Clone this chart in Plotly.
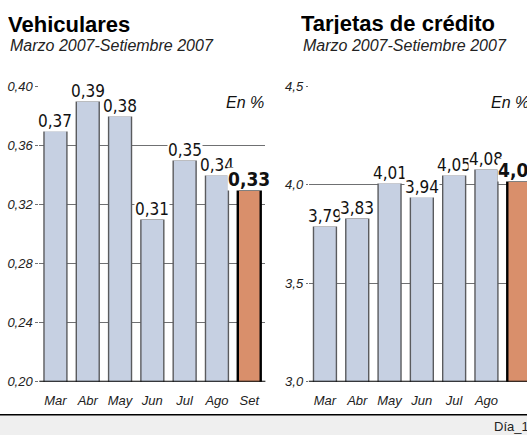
import plotly.graph_objects as go

months = ["Mar", "Abr", "May", "Jun", "Jul", "Ago", "Set"]
vehiculares = [0.37, 0.39, 0.38, 0.31, 0.35, 0.34, 0.33]
tarjetas = [3.79, 3.83, 4.01, 3.94, 4.05, 4.08, 4.02]
veh_ticks = [0.20, 0.24, 0.28, 0.32, 0.36, 0.40]
tar_ticks = [3.0, 3.5, 4.0, 4.5]

W, H = 527, 443
BLUE = "#c6d0e2"
ORANGE = "#d98f6b"
EDGE = "#5a5b5e"
GRID = "#6f7072"
NARROW = "Liberation Sans Narrow, DejaVu Sans Condensed, Arial Narrow, sans-serif"
SANS = "Liberation Sans, Arial, Helvetica, sans-serif"

def px(x):
    return x / W

def py(y):
    return (H - y) / H

pitch = 32.3
left0 = 39.3
right0 = 308.8
ydom = [py(388), py(82)]

def fmt(v, d):
    return f"{v:.{d}f}".replace(".", ",")

fig = go.Figure()
for vals, xa, ya in [(vehiculares, "x", "y"), (tarjetas, "x2", "y2")]:
    colors = [BLUE] * (len(vals) - 1) + [ORANGE]
    lcolors = [EDGE] * (len(vals) - 1) + ["#000000"]
    lwidths = [1.4] * (len(vals) - 1) + [2.4]
    fig.add_trace(go.Bar(
        x=list(range(len(months))), y=vals, xaxis=xa, yaxis=ya,
        marker=dict(color=colors, line=dict(color=lcolors, width=lwidths)),
        width=0.71, showlegend=False, hoverinfo="skip",
    ))

ann = []
for series, xr, yr in [(vehiculares, "x", "y"), (tarjetas, "x2", "y2")]:
    for i, v in enumerate(series):
        last = i == len(series) - 1
        ann.append(dict(x=i, y=v, xref=xr, yref=yr,
                        text=(f"<b>{fmt(v,2)}</b>" if last else fmt(v, 2)),
                        showarrow=False, yanchor="bottom", yshift=-1, bgcolor="white", borderpad=0,
                        font=dict(family=NARROW, size=19 if last else 17, color="#111")))

# titles
ann += [
    dict(x=px(7), y=py(18), xref="paper", yref="paper", text="<b>Vehiculares</b>", showarrow=False,
         xanchor="left", yanchor="middle", height=22, borderpad=0,
         font=dict(family=SANS, size=22, color="#000")),
    dict(x=px(9), y=py(39.5), xref="paper", yref="paper", text="<i>Marzo 2007-Setiembre 2007</i>", showarrow=False,
         xanchor="left", yanchor="middle", height=16, borderpad=0,
         font=dict(family=SANS, size=16, color="#222")),
    dict(x=px(300), y=py(17), xref="paper", yref="paper", text="<b>Tarjetas de crédito</b>", showarrow=False,
         xanchor="left", yanchor="middle", height=22, borderpad=0,
         font=dict(family=SANS, size=22, color="#000")),
    dict(x=px(302), y=py(39.5), xref="paper", yref="paper", text="<i>Marzo 2007-Setiembre 2007</i>", showarrow=False,
         xanchor="left", yanchor="middle", height=16, borderpad=0,
         font=dict(family=SANS, size=16, color="#222")),
    dict(x=px(266), y=py(99), xref="paper", yref="paper", text="<i>En %</i>", showarrow=False,
         xanchor="right", yanchor="middle", font=dict(family=SANS, size=16, color="#111")),
    dict(x=px(531), y=py(99), xref="paper", yref="paper", text="<i>En %</i>", showarrow=False,
         xanchor="right", yanchor="middle", font=dict(family=SANS, size=16, color="#111")),
    dict(x=px(531), y=py(434), xref="paper", yref="paper", text="Día_1", showarrow=False,
         xanchor="right", yanchor="middle", font=dict(family=SANS, size=13, color="#222")),
]

shapes = [
    dict(type="rect", xref="paper", yref="paper", x0=0, x1=1, y0=0, y1=py(422),
         fillcolor="#efefef", line=dict(width=0), layer="below"),
    dict(type="line", xref="paper", yref="paper", x0=0, x1=1, y0=py(422), y1=py(422),
         line=dict(color="#000", width=1.5)),
    dict(type="line", xref="x domain", yref="y", x0=0, x1=1, y0=0.20, y1=0.20,
         line=dict(color="#000", width=2.2), layer="above"),
    dict(type="line", xref="x2 domain", yref="y2", x0=0, x1=1, y0=3.0, y1=3.0,
         line=dict(color="#000", width=2.2), layer="above"),
]

tickfont = dict(family=SANS, size=13, color="#222")
fig.update_layout(
    width=W, height=H, margin=dict(l=0, r=0, t=0, b=0),
    paper_bgcolor="white", plot_bgcolor="white",
    annotations=ann, shapes=shapes, bargap=0.29,
    xaxis=dict(domain=[px(left0), px(left0 + 7 * pitch)], range=[-0.5, 6.5],
               tickvals=list(range(7)), ticktext=[f"<i>{m}</i>" for m in months],
               showgrid=False, zeroline=False, showline=False, ticks="", tickfont=tickfont,
               ticklabelstandoff=9),
    yaxis=dict(domain=ydom, range=[0.20, 0.40], tickvals=veh_ticks,
               ticktext=[f"<i>{fmt(t,2)}</i>" for t in veh_ticks],
               showgrid=True, gridcolor=GRID, gridwidth=1.3, zeroline=False, showline=False,
               ticks="outside", ticklen=3, tickcolor=GRID, tickwidth=1.3, tickfont=tickfont),
    xaxis2=dict(domain=[px(right0), 1], range=[-0.5, -0.5 + (W - right0) / pitch],
                tickvals=list(range(7)), ticktext=[f"<i>{m}</i>" for m in months],
                showgrid=False, zeroline=False, showline=False, ticks="", tickfont=tickfont,
                anchor="y2", ticklabelstandoff=9),
    yaxis2=dict(domain=ydom, range=[3.0, 4.5], tickvals=tar_ticks,
                ticktext=[f"<i>{fmt(t,1)}</i>" for t in tar_ticks], anchor="x2",
                showgrid=True, gridcolor=GRID, gridwidth=1.3, zeroline=False, showline=False,
                ticks="outside", ticklen=2, tickcolor=GRID, tickwidth=1.3, tickfont=tickfont),
)

PAGE_FIX = (
    "var de=document.documentElement, b=document.body;"
    "de.style.margin='0'; de.style.padding='0'; de.style.overflow='hidden';"
    "b.style.margin='0'; b.style.padding='0'; b.style.overflow='hidden';"
)

fig.write_html("out.html", config={"displayModeBar": False}, post_script=PAGE_FIX)
